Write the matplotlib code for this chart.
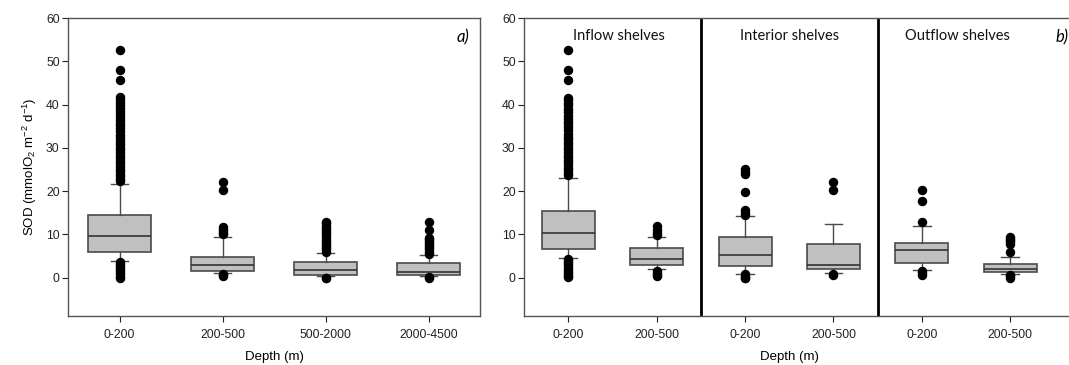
import matplotlib
matplotlib.use("Agg")
import matplotlib.pyplot as plt

plt.rcParams['font.family'] = ['Liberation Sans', 'DejaVu Sans']
plt.rcParams['mathtext.default'] = 'regular'

# ---- panel a: all stations by depth class ----
depth_a = ['0-200', '200-500', '500-2000', '2000-4500']
q1_a = [6.0, 1.6, 0.6, 0.55]
med_a = [9.6, 2.8, 1.7, 1.3]
q3_a = [14.5, 4.8, 3.6, 3.3]
wlo_a = [3.9, 1.0, 0.3, 0.4]
whi_a = [21.7, 9.4, 5.7, 5.1]
fliers_a = [
    [52.7, 47.9, 45.7, 41.7, 41.2, 40.6, 40.0, 39.3, 38.6, 37.9, 37.0, 36.4,
     35.8, 35.2, 34.6, 33.8, 33.0, 32.4, 31.8, 31.2, 30.6, 30.0, 29.4, 28.8,
     28.2, 27.6, 27.0, 26.4, 25.8, 25.2, 24.6, 24.0, 23.4, 22.8, 22.2,
     3.7, 3.2, 2.7, 2.2, 1.7, 1.2, 0.7, 0.2, -0.2],
    [22.0, 20.2, 11.7, 11.2, 10.8, 10.3, 10.0, 0.8, 0.5, 0.3],
    [12.9, 12.5, 12.0, 11.5, 11.0, 10.5, 10.0, 9.5, 9.0, 8.5, 8.0, 7.5,
     7.0, 6.5, 6.0, 0.0, -0.2],
    [12.9, 11.0, 9.2, 8.8, 8.5, 8.0, 7.5, 7.0, 6.5, 6.0, 5.5, 0.1, -0.1],
]

# ---- panel b: shelves by region ----
depth_b = ['0-200', '200-500', '0-200', '200-500', '0-200', '200-500']
regions_b = ['Inflow shelves', 'Interior shelves', 'Outflow shelves']
q1_b = [6.7, 2.9, 2.6, 2.0, 3.25, 1.2]
med_b = [10.2, 4.3, 5.1, 2.8, 6.4, 2.0]
q3_b = [15.4, 6.8, 9.4, 7.8, 8.0, 3.2]
wlo_b = [4.6, 1.9, 0.9, 1.0, 1.8, 0.9]
whi_b = [23.0, 9.4, 14.2, 12.3, 11.8, 4.8]
fliers_b = [
    [52.7, 47.9, 45.7, 41.5, 41.0, 40.4, 39.8, 39.0, 38.2, 37.4, 36.6, 36.0,
     35.4, 34.8, 34.0, 33.2, 32.6, 32.0, 31.4, 30.8, 30.2, 29.6, 29.0, 28.4,
     27.8, 27.2, 26.6, 26.0, 25.4, 24.8, 24.2, 23.6,
     4.3, 3.8, 3.3, 2.8, 2.3, 1.8, 1.3, 0.8, 0.3, 0.1],
    [12.0, 11.0, 10.2, 9.8, 1.5, 1.0, 0.5, 0.3],
    [25.0, 24.5, 24.0, 19.8, 15.5, 15.0, 14.5, 0.7, 0.3, 0.0, -0.2],
    [22.0, 20.3, 0.8, 0.5],
    [20.2, 17.8, 12.9, 1.5, 1.0, 0.6],
    [9.3, 9.0, 8.6, 8.2, 7.7, 5.8, 0.6, 0.3, 0.0],
]


def make_stats(labels, q1, med, q3, wlo, whi, fliers):
    stats = []
    for i in range(len(labels)):
        stats.append(dict(label=labels[i], q1=q1[i], med=med[i], q3=q3[i],
                          whislo=wlo[i], whishi=whi[i], fliers=fliers[i]))
    return stats


edge = '#4a4a4a'
boxprops = dict(facecolor='#c0c0c0', edgecolor=edge, linewidth=1.2)
lineprops = dict(color=edge, linewidth=1.0)
medprops = dict(color='#333333', linewidth=1.2)
flierprops = dict(marker='o', markerfacecolor='black', markeredgecolor='black',
                  markersize=5.8, linestyle='none')

fig = plt.figure(figsize=(10.69, 3.65), dpi=100)
ax1 = fig.add_axes([68 / 1069, 49 / 365, 412 / 1069, 298 / 365])
ax2 = fig.add_axes([524 / 1069, 49 / 365, 557 / 1069, 298 / 365])

ax1.bxp(make_stats(depth_a, q1_a, med_a, q3_a, wlo_a, whi_a, fliers_a),
        widths=0.61, capwidths=0.17, patch_artist=True, boxprops=boxprops,
        whiskerprops=lineprops, capprops=lineprops, medianprops=medprops,
        flierprops=flierprops)
ax2.bxp(make_stats(depth_b, q1_b, med_b, q3_b, wlo_b, whi_b, fliers_b),
        widths=0.6, capwidths=0.2, patch_artist=True, boxprops=boxprops,
        whiskerprops=lineprops, capprops=lineprops, medianprops=medprops,
        flierprops=flierprops)

for ax in (ax1, ax2):
    ax.set_ylim(-8.9, 60)
    ax.set_yticks(range(0, 61, 10))
    for s in ax.spines.values():
        s.set_color('#555555')
        s.set_linewidth(1.0)
    ax.tick_params(axis='both', labelsize=8.8, colors='#222222', length=4,
                   width=0.8, direction='out')
    ax.tick_params(axis='x', pad=5)
    ax.tick_params(axis='y', pad=2)

ax1.set_xlim(0.5, 4.5)
ax2.set_xlim(0.5, 6.8)

ax1.set_ylabel('SOD (mmolO$_2$ m$^{-2}$ d$^{-1}$)', fontsize=9.5, labelpad=5)
ax1.set_xlabel('Depth (m)', fontsize=9.5)
ax2.set_xlabel('Depth (m)', fontsize=9.5)
for ax, xc in ((ax1, 0.5), (ax2, 0.476)):
    ax.xaxis.label.set_va('center')
    ax.xaxis.set_label_coords(xc, -0.137)

for xv in (2.5, 4.5):
    ax2.axvline(xv, color='black', linewidth=2)

for xc, name in zip([1.57, 3.5, 5.4], regions_b):
    ax2.text(xc, 55.8, name, ha='center', va='center', fontsize=10.5,
             family=['Lato', 'DejaVu Sans'], color='#111111')

ax1.text(0.975, 0.935, 'a)', transform=ax1.transAxes, ha='right', va='center',
         fontsize=12, style='italic', family=['Lato', 'DejaVu Sans'])
ax2.text(0.955, 0.935, 'b)', transform=ax2.transAxes, ha='left', va='center',
         fontsize=12, style='italic', family=['Lato', 'DejaVu Sans'])

fig.savefig('out.png', dpi=100)
